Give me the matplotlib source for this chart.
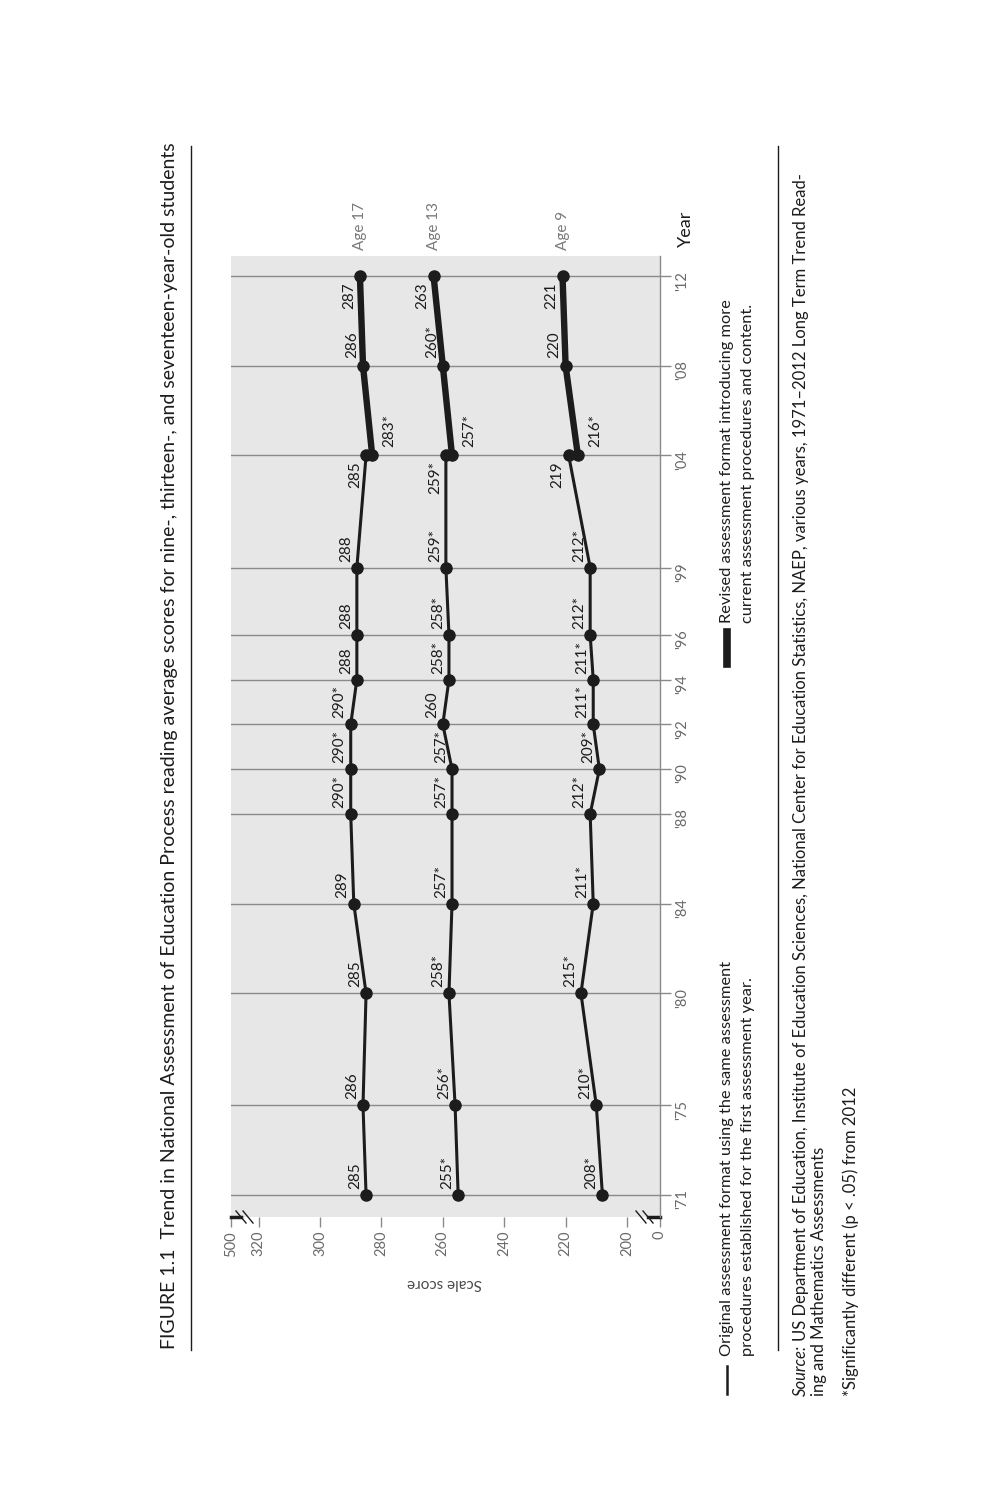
import matplotlib
matplotlib.use("Agg")
import matplotlib.pyplot as plt
from matplotlib.lines import Line2D

plt.rcParams['font.family'] = ['Lato', 'DejaVu Sans']

# ---------------- data ----------------
years_orig = [1971, 1975, 1980, 1984, 1988, 1990, 1992, 1994, 1996, 1999, 2004]
years_rev = [2004, 2008, 2012]
year_tick_values = [1971, 1975, 1980, 1984, 1988, 1990, 1992, 1994, 1996, 1999, 2004, 2008, 2012]
year_tick_labels = ["'71", "'75", "'80", "'84", "'88", "'90", "'92", "'94", "'96", "'99", "'04", "'08", "'12"]

age17_orig = [285, 286, 285, 289, 290, 290, 290, 288, 288, 288, 285]
age17_orig_lbl = ["285", "286", "285", "289", "290*", "290*", "290*", "288", "288", "288", "285"]
age17_rev = [283, 286, 287]
age17_rev_lbl = ["283*", "286", "287"]

age13_orig = [255, 256, 258, 257, 257, 257, 260, 258, 258, 259, 259]
age13_orig_lbl = ["255*", "256*", "258*", "257*", "257*", "257*", "260", "258*", "258*", "259*", "259*"]
age13_rev = [257, 260, 263]
age13_rev_lbl = ["257*", "260*", "263"]

age9_orig = [208, 210, 215, 211, 212, 209, 211, 211, 212, 212, 219]
age9_orig_lbl = ["208*", "210*", "215*", "211*", "212*", "209*", "211*", "211*", "212*", "212*", "219"]
age9_rev = [216, 220, 221]
age9_rev_lbl = ["216*", "220", "221"]

series_names = ["Age 17", "Age 13", "Age 9"]

score_tick_values = [500, 320, 300, 280, 260, 240, 220, 200, 0]

title = ("FIGURE 1.1  Trend in National Assessment of Education Process reading average "
         "scores for nine-, thirteen-, and seventeen-year-old students")
legend_orig = ["Original assessment format using the same assessment",
               "procedures established for the first assessment year."]
legend_rev = ["Revised assessment format introducing more",
              "current assessment procedures and content."]
source_1 = ("US Department of Education, Institute of Education Sciences, National Center for "
            "Education Statistics, NAEP, various years, 1971\u20132012 Long Term Trend Read-")
source_2 = "ing and Mathematics Assessments"
footnote = "*Significantly different (p < .05) from 2012"

# ---------------- layout ----------------
W, H = 1000, 1500
fig = plt.figure(figsize=(10, 15), dpi=100)
fig.patch.set_facecolor('white')

def fx(px):
    return px / W

def fy(py):
    return 1 - py / H

ax_l, ax_r, ax_t, ax_b = 231, 660, 256, 1217
ax = fig.add_axes([fx(ax_l), fy(ax_b), fx(ax_r - ax_l), (ax_b - ax_t) / H])
ax.set_facecolor('#e7e7e7')

# broken score axis: 500 -> left end, 0 -> right end
X_HI, X_LO = 329.0, 189.25
ax.set_xlim(X_HI, X_LO)
ax.set_ylim(1970.02, 2012.9)

def score_pos(v):
    if v > 320:
        return X_HI
    if v < 200:
        return X_LO
    return v

for s in ['top', 'left', 'bottom']:
    ax.spines[s].set_visible(False)
ax.spines['right'].set_color('#8a8a8a')
ax.spines['right'].set_linewidth(1.0)

# year axis (vertical on page) with gridlines
ax.set_yticks(year_tick_values)
ax.set_yticklabels(year_tick_labels)
ax.yaxis.tick_right()
ax.tick_params(axis='y', which='both', length=8, width=1.0, color='#8a8a8a',
               labelrotation=90, labelsize=10.5, labelcolor='#6a6a6a', pad=3)
ax.grid(axis='y', color='#8a8a8a', lw=1.0)
ax.set_axisbelow(True)

# score axis (horizontal on page)
ax.set_xticks([score_pos(v) for v in score_tick_values])
ax.set_xticklabels([str(v) for v in score_tick_values])
ax.tick_params(axis='x', which='both', length=7, width=1.0, color='#8a8a8a',
               labelrotation=90, labelsize=10.5, labelcolor='#6a6a6a', pad=3)

# axis break decorations
tr = ax.transAxes
def ax_x(px):
    return (px - ax_l) / (ax_r - ax_l)
def ax_y(py):
    return (ax_b - py) / (ax_b - ax_t)
ax.add_line(Line2D([ax_x(231), ax_x(241)], [0, 0], transform=tr, color='#1c1c1c', lw=2.5, clip_on=False))
ax.add_line(Line2D([ax_x(648), ax_x(660)], [0, 0], transform=tr, color='#1c1c1c', lw=2.5, clip_on=False))
for x0 in (236, 243):
    ax.add_line(Line2D([ax_x(x0), ax_x(x0 + 10)], [ax_y(1211), ax_y(1223)], transform=tr,
                       color='#1c1c1c', lw=1.0, clip_on=False))
for x0 in (636, 643):
    ax.add_line(Line2D([ax_x(x0), ax_x(x0 + 10)], [ax_y(1211), ax_y(1223)], transform=tr,
                       color='#1c1c1c', lw=1.0, clip_on=False))

LINE_C = '#1c1c1c'
orig_series = [age17_orig, age13_orig, age9_orig]
orig_labels = [age17_orig_lbl, age13_orig_lbl, age9_orig_lbl]
rev_series = [age17_rev, age13_rev, age9_rev]
rev_labels = [age17_rev_lbl, age13_rev_lbl, age9_rev_lbl]

px2pt = 72 / 100.0
lab_kw = dict(rotation=90, rotation_mode='anchor', fontsize=11, color='#1c1c1c',
              textcoords='offset points')

for so, lo, sr, lr, name in zip(orig_series, orig_labels, rev_series, rev_labels, series_names):
    # x = score, y = year (chart is rotated on the page)
    ax.plot(so, years_orig, color=LINE_C, lw=2.2, marker='o', ms=8, zorder=3)
    ax.plot(sr, years_rev, color=LINE_C, lw=4.6, marker='o', ms=8, zorder=3,
            solid_capstyle='round')
    for i, (yr, v, t) in enumerate(zip(years_orig, so, lo)):
        if i == len(years_orig) - 1:
            ax.annotate(t, (v, yr), xytext=(-7 * px2pt, -6 * px2pt), ha='right', va='baseline', **lab_kw)
        else:
            ax.annotate(t, (v, yr), xytext=(-7 * px2pt, 6 * px2pt), ha='left', va='baseline', **lab_kw)
    for i, (yr, v, t) in enumerate(zip(years_rev, sr, lr)):
        if i == 0:
            ax.annotate(t, (v, yr), xytext=(10 * px2pt, 8 * px2pt), ha='left', va='top', **lab_kw)
        elif i == len(years_rev) - 1:
            ax.annotate(t, (v, yr), xytext=(-7 * px2pt, -6 * px2pt), ha='right', va='baseline', **lab_kw)
        else:
            ax.annotate(t, (v, yr), xytext=(-7 * px2pt, 8 * px2pt), ha='left', va='baseline', **lab_kw)
    ax.annotate(name, (sr[-1], years_rev[-1]), xytext=(0, 26 * px2pt), textcoords='offset points',
                rotation=90, rotation_mode='anchor', ha='left', va='center',
                fontsize=11, color='#7a7a7a', annotation_clip=False)

# axis titles
fig.text(fx(686), fy(247), "Year", rotation=90, rotation_mode='anchor', ha='left', va='center',
         fontsize=13, color='#1c1c1c')
fig.text(fx(445), fy(1283), "Scale score", rotation=180, rotation_mode='anchor', ha='center',
         va='center', fontsize=11, color='#4a4a4a')

# title and rules
fig.text(fx(170), fy(1349), title, rotation=90, rotation_mode='anchor', ha='left', va='center',
         fontsize=14.0, color='#1c1c1c')
fig.add_artist(Line2D([fx(191), fx(191)], [fy(1350), fy(146)], color='#1c1c1c', lw=1.0))
fig.add_artist(Line2D([fx(778), fx(778)], [fy(1350), fy(146)], color='#1c1c1c', lw=1.0))

# legend
fig.add_artist(Line2D([fx(727), fx(727)], [fy(1394), fy(1366)], color=LINE_C, lw=1.8))
fig.add_artist(Line2D([fx(727), fx(727)], [fy(664), fy(632)], color=LINE_C, lw=5.5))
leg_kw = dict(rotation=90, rotation_mode='anchor', ha='left', va='center', fontsize=11.8, color='#1c1c1c')
fig.text(fx(727), fy(1356), legend_orig[0], **leg_kw)
fig.text(fx(748), fy(1356), legend_orig[1], **leg_kw)
fig.text(fx(727), fy(623), legend_rev[0], **leg_kw)
fig.text(fx(748), fy(623), legend_rev[1], **leg_kw)

# source
src_kw = dict(rotation=90, rotation_mode='anchor', ha='left', va='center', fontsize=12.0, color='#1c1c1c')
t_src = fig.text(fx(801), fy(1396), "Source:", style='italic', **src_kw)
fig.canvas.draw()
bb = t_src.get_window_extent(renderer=fig.canvas.get_renderer())
fig.text(fx(801), (bb.y1 + 4) / H, source_1, **src_kw)
fig.text(fx(819), fy(1396), source_2, **src_kw)
fig.text(fx(851), fy(1396), footnote, **src_kw)

fig.savefig("out.png", dpi=100, facecolor='white')
